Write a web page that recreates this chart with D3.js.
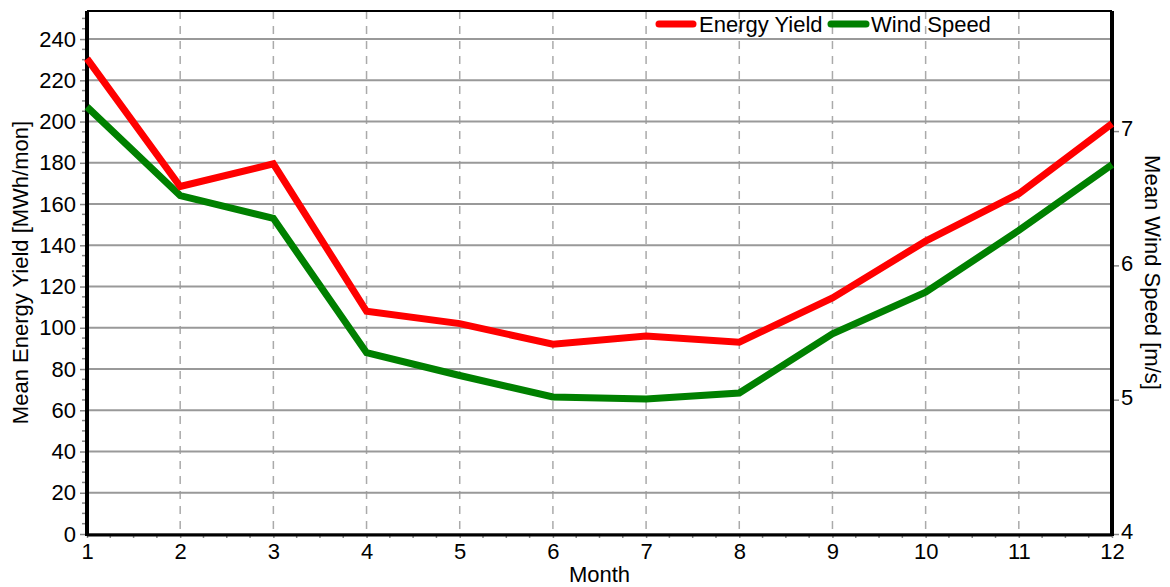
<!DOCTYPE html>
<html><head><meta charset="utf-8">
<script src="https://cdn.jsdelivr.net/npm/d3@7"></script>
<style>body{margin:0;background:#fff}svg{display:block;font-family:"Liberation Sans",Arial,sans-serif}</style>
</head><body><svg id="c" width="1170" height="587"></svg>
<script>
const months = [1,2,3,4,5,6,7,8,9,10,11,12];
const energyYield = [230.5, 168.5, 179.5, 108, 102, 92, 96, 93, 114.5, 142, 165, 199];
const windSpeed = [7.18, 6.52, 6.35, 5.35, 5.18, 5.02, 5.005, 5.05, 5.49, 5.80, 6.26, 6.75];
const leftTicks = [0,20,40,60,80,100,120,140,160,180,200,220,240];
const rightTicks = [4,5,6,7];

const FS = 22;
const FF = "Liberation Sans, Arial, sans-serif";
const svg = d3.select("#c");
const L = 87, R = 1112, T = 11, B = 534;
const x = d3.scaleLinear().domain([1,12]).range([L,R]);
const yL = d3.scaleLinear().domain([0,253.6]).range([B,T]);
const yR = d3.scaleLinear().domain([4,7.894]).range([B,T]);

// vertical dashed gridlines
svg.append("g").selectAll("line").data(months.slice(1,-1)).join("line")
  .attr("x1",d=>x(d)).attr("x2",d=>x(d)).attr("y1",T).attr("y2",B)
  .attr("stroke","#aaa").attr("stroke-width",1.5).attr("stroke-dasharray","8,7");
// horizontal gridlines
svg.append("g").selectAll("line").data(leftTicks).join("line")
  .attr("x1",L).attr("x2",R).attr("y1",d=>yL(d)).attr("y2",d=>yL(d))
  .attr("stroke","#999").attr("stroke-width",2);

// left axis
const gl = svg.append("g").attr("transform",`translate(${L},0)`)
  .call(d3.axisLeft(yL).tickValues(leftTicks).tickSize(7).tickPadding(4));
gl.selectAll(".domain").remove();
gl.selectAll(".tick line").attr("stroke","#888").attr("stroke-width",1.5);
gl.selectAll("text").attr("font-size",FS).attr("fill","#000").attr("font-family",FF);
const minorL = d3.range(0,254,5).filter(v=>v%20!==0);
svg.append("g").selectAll("line").data(minorL).join("line")
  .attr("x1",L-5).attr("x2",L).attr("y1",d=>yL(d)).attr("y2",d=>yL(d))
  .attr("stroke","#888").attr("stroke-width",1.5);

// right axis
const gr = svg.append("g").attr("transform",`translate(${R},0)`)
  .call(d3.axisRight(yR).tickValues(rightTicks).tickFormat(d3.format("d")).tickSize(7).tickPadding(2));
gr.selectAll(".domain").remove();
gr.selectAll(".tick line").attr("stroke","#888").attr("stroke-width",1.5);
gr.selectAll("text").attr("font-size",FS).attr("fill","#000").attr("font-family",FF).attr("dy","0.22em");

// bottom axis
const gb = svg.append("g").attr("transform",`translate(0,${B})`)
  .call(d3.axisBottom(x).tickValues(months).tickFormat(d3.format("d")).tickSize(4).tickPadding(5));
gb.selectAll(".domain").remove();
gb.selectAll(".tick line").attr("stroke","#888").attr("stroke-width",1.5);
gb.selectAll("text").attr("font-size",FS).attr("fill","#000").attr("font-family",FF);
const minorX = d3.range(1,12.01,0.25).filter(v=>v%1!==0);
svg.append("g").selectAll("line").data(minorX).join("line")
  .attr("x1",d=>x(d)).attr("x2",d=>x(d)).attr("y1",B).attr("y2",B+4)
  .attr("stroke","#888").attr("stroke-width",1.5);

// frame
svg.append("line").attr("x1",L).attr("x2",R).attr("y1",T).attr("y2",T).attr("stroke","#000").attr("stroke-width",2);
svg.append("line").attr("x1",L).attr("x2",R).attr("y1",B+1).attr("y2",B+1).attr("stroke","#000").attr("stroke-width",3);
svg.append("line").attr("x1",L).attr("x2",L).attr("y1",T).attr("y2",B+2).attr("stroke","#000").attr("stroke-width",4);
svg.append("line").attr("x1",R).attr("x2",R).attr("y1",T).attr("y2",B+2).attr("stroke","#000").attr("stroke-width",4);

// lines
const lineE = d3.line().x((d,i)=>x(months[i])).y(d=>yL(d));
const lineW = d3.line().x((d,i)=>x(months[i])).y(d=>yR(d));
svg.append("path").datum(windSpeed).attr("d",lineW).attr("fill","none")
  .attr("stroke","#008000").attr("stroke-width",7).attr("stroke-linejoin","miter");
svg.append("path").datum(energyYield).attr("d",lineE).attr("fill","none")
  .attr("stroke","#ff0000").attr("stroke-width",7).attr("stroke-linejoin","miter");

// legend
const lg = svg.append("g").attr("font-size",FS);
lg.append("line").attr("x1",659).attr("x2",693).attr("y1",24).attr("y2",24)
  .attr("stroke","#ff0000").attr("stroke-width",7).attr("stroke-linecap","round");
lg.append("text").attr("x",699).attr("y",32).text("Energy Yield");
lg.append("line").attr("x1",831).attr("x2",866).attr("y1",24).attr("y2",24)
  .attr("stroke","#008000").attr("stroke-width",7).attr("stroke-linecap","round");
lg.append("text").attr("x",871).attr("y",32).text("Wind Speed");

// axis titles
svg.append("text").attr("transform",`translate(28,${(T+B)/2}) rotate(-90)`)
  .attr("text-anchor","middle").attr("font-size",FS).text("Mean Energy Yield [MWh/mon]");
svg.append("text").attr("transform",`translate(1145,${(T+B)/2}) rotate(90)`)
  .attr("text-anchor","middle").attr("font-size",FS).text("Mean Wind Speed [m/s]");
svg.append("text").attr("x",(L+R)/2).attr("y",582).attr("text-anchor","middle").attr("font-size",FS).text("Month");
</script></body></html>
